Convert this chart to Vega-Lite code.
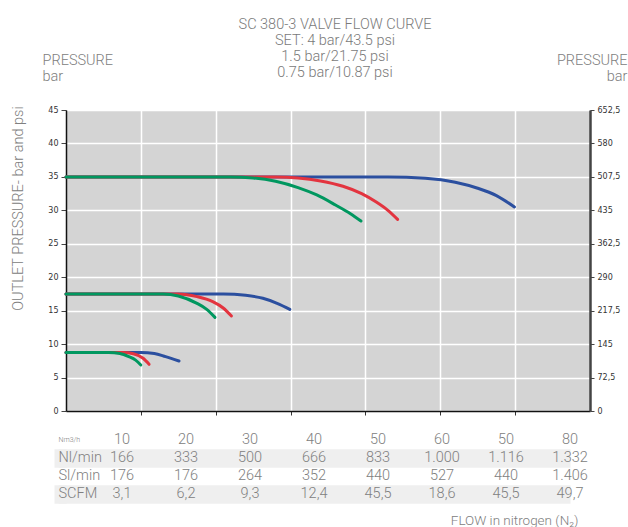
{
  "$schema": "https://vega.github.io/schema/vega-lite/v6.json",
  "width": 524,
  "height": 301,
  "autosize": "none",
  "padding": {"left": 66, "top": 110, "right": 38, "bottom": 116},
  "background": "white",
  "config": {
    "view": {"fill": "#d4d4d4", "stroke": "#9a9a9a", "strokeWidth": 1},
    "font": "Roboto",
    "axis": {
      "labelFont": "DejaVu Sans",
      "labelFontSize": 8,
      "labelColor": "#333333",
      "titleFont": "Roboto",
      "titleFontWeight": 300,
      "titleColor": "#808080",
      "titleFontSize": 14.5
    }
  },
  "title": {
    "text": ["SC 380-3 VALVE FLOW CURVE", "SET: 4 bar/43.5 psi", "1.5 bar/21.75 psi", "0.75 bar/10.87 psi"],
    "anchor": "middle",
    "frame": "group",
    "font": "Roboto",
    "fontWeight": 300,
    "fontSize": 14.5,
    "color": "#7a7a7a",
    "lineHeight": 16,
    "offset": -28,
    "dx": 7
  },
  "datasets": {
    "curves": [
      {"set": "35", "curve": "blue", "flow": 0, "pressure": 35},
      {"set": "35", "curve": "blue", "flow": 4.3, "pressure": 35},
      {"set": "35", "curve": "blue", "flow": 4.8, "pressure": 34.8},
      {"set": "35", "curve": "blue", "flow": 5.2, "pressure": 34.2},
      {"set": "35", "curve": "blue", "flow": 5.5, "pressure": 33.3},
      {"set": "35", "curve": "blue", "flow": 5.75, "pressure": 32.2},
      {"set": "35", "curve": "blue", "flow": 5.99, "pressure": 30.5},
      {"set": "17.5", "curve": "blue", "flow": 0, "pressure": 17.5},
      {"set": "17.5", "curve": "blue", "flow": 2.1, "pressure": 17.5},
      {"set": "17.5", "curve": "blue", "flow": 2.4, "pressure": 17.3},
      {"set": "17.5", "curve": "blue", "flow": 2.63, "pressure": 16.85},
      {"set": "17.5", "curve": "blue", "flow": 2.82, "pressure": 16.1},
      {"set": "17.5", "curve": "blue", "flow": 2.99, "pressure": 15.2},
      {"set": "8.75", "curve": "blue", "flow": 0, "pressure": 8.75},
      {"set": "8.75", "curve": "blue", "flow": 1.0, "pressure": 8.75},
      {"set": "8.75", "curve": "blue", "flow": 1.18, "pressure": 8.6},
      {"set": "8.75", "curve": "blue", "flow": 1.33, "pressure": 8.12},
      {"set": "8.75", "curve": "blue", "flow": 1.51, "pressure": 7.47},
      {"set": "35", "curve": "red", "flow": 0, "pressure": 35},
      {"set": "35", "curve": "red", "flow": 2.8, "pressure": 35},
      {"set": "35", "curve": "red", "flow": 3.1, "pressure": 34.85},
      {"set": "35", "curve": "red", "flow": 3.4, "pressure": 34.4},
      {"set": "35", "curve": "red", "flow": 3.7, "pressure": 33.6},
      {"set": "35", "curve": "red", "flow": 3.95, "pressure": 32.5},
      {"set": "35", "curve": "red", "flow": 4.15, "pressure": 31.2},
      {"set": "35", "curve": "red", "flow": 4.3, "pressure": 30.0},
      {"set": "35", "curve": "red", "flow": 4.43, "pressure": 28.65},
      {"set": "17.5", "curve": "red", "flow": 0, "pressure": 17.5},
      {"set": "17.5", "curve": "red", "flow": 1.5, "pressure": 17.5},
      {"set": "17.5", "curve": "red", "flow": 1.75, "pressure": 17.1},
      {"set": "17.5", "curve": "red", "flow": 1.96, "pressure": 16.35},
      {"set": "17.5", "curve": "red", "flow": 2.1, "pressure": 15.4},
      {"set": "17.5", "curve": "red", "flow": 2.21, "pressure": 14.2},
      {"set": "8.75", "curve": "red", "flow": 0, "pressure": 8.75},
      {"set": "8.75", "curve": "red", "flow": 0.76, "pressure": 8.75},
      {"set": "8.75", "curve": "red", "flow": 0.9, "pressure": 8.55},
      {"set": "8.75", "curve": "red", "flow": 1.03, "pressure": 7.88},
      {"set": "8.75", "curve": "red", "flow": 1.11, "pressure": 6.98},
      {"set": "35", "curve": "green", "flow": 0, "pressure": 35},
      {"set": "35", "curve": "green", "flow": 2.2, "pressure": 35},
      {"set": "35", "curve": "green", "flow": 2.5, "pressure": 34.85},
      {"set": "35", "curve": "green", "flow": 2.8, "pressure": 34.35},
      {"set": "35", "curve": "green", "flow": 3.1, "pressure": 33.4},
      {"set": "35", "curve": "green", "flow": 3.35, "pressure": 32.3},
      {"set": "35", "curve": "green", "flow": 3.6, "pressure": 30.8},
      {"set": "35", "curve": "green", "flow": 3.8, "pressure": 29.5},
      {"set": "35", "curve": "green", "flow": 3.94, "pressure": 28.4},
      {"set": "17.5", "curve": "green", "flow": 0, "pressure": 17.5},
      {"set": "17.5", "curve": "green", "flow": 1.3, "pressure": 17.5},
      {"set": "17.5", "curve": "green", "flow": 1.5, "pressure": 17.2},
      {"set": "17.5", "curve": "green", "flow": 1.75, "pressure": 16.1},
      {"set": "17.5", "curve": "green", "flow": 1.88, "pressure": 15.2},
      {"set": "17.5", "curve": "green", "flow": 1.99, "pressure": 14.0},
      {"set": "8.75", "curve": "green", "flow": 0, "pressure": 8.75},
      {"set": "8.75", "curve": "green", "flow": 0.57, "pressure": 8.75},
      {"set": "8.75", "curve": "green", "flow": 0.72, "pressure": 8.6},
      {"set": "8.75", "curve": "green", "flow": 0.84, "pressure": 8.12},
      {"set": "8.75", "curve": "green", "flow": 0.93, "pressure": 7.6},
      {"set": "8.75", "curve": "green", "flow": 1.0, "pressure": 6.88}
    ],
    "psi": [{"psi": 0}, {"psi": 652.5}],
    "table": [
      {"row": "Nm3/h", "col": 1, "value": "10"},
      {"row": "Nm3/h", "col": 2, "value": "20"},
      {"row": "Nm3/h", "col": 3, "value": "30"},
      {"row": "Nm3/h", "col": 4, "value": "40"},
      {"row": "Nm3/h", "col": 5, "value": "50"},
      {"row": "Nm3/h", "col": 6, "value": "60"},
      {"row": "Nm3/h", "col": 7, "value": "50"},
      {"row": "Nm3/h", "col": 8, "value": "80"},
      {"row": "Nl/min", "col": 1, "value": "166"},
      {"row": "Nl/min", "col": 2, "value": "333"},
      {"row": "Nl/min", "col": 3, "value": "500"},
      {"row": "Nl/min", "col": 4, "value": "666"},
      {"row": "Nl/min", "col": 5, "value": "833"},
      {"row": "Nl/min", "col": 6, "value": "1.000"},
      {"row": "Nl/min", "col": 7, "value": "1.116"},
      {"row": "Nl/min", "col": 8, "value": "1.332"},
      {"row": "Sl/min", "col": 1, "value": "176"},
      {"row": "Sl/min", "col": 2, "value": "176"},
      {"row": "Sl/min", "col": 3, "value": "264"},
      {"row": "Sl/min", "col": 4, "value": "352"},
      {"row": "Sl/min", "col": 5, "value": "440"},
      {"row": "Sl/min", "col": 6, "value": "527"},
      {"row": "Sl/min", "col": 7, "value": "440"},
      {"row": "Sl/min", "col": 8, "value": "1.406"},
      {"row": "SCFM", "col": 1, "value": "3,1"},
      {"row": "SCFM", "col": 2, "value": "6,2"},
      {"row": "SCFM", "col": 3, "value": "9,3"},
      {"row": "SCFM", "col": 4, "value": "12,4"},
      {"row": "SCFM", "col": 5, "value": "45,5"},
      {"row": "SCFM", "col": 6, "value": "18,6"},
      {"row": "SCFM", "col": 7, "value": "45,5"},
      {"row": "SCFM", "col": 8, "value": "49,7"}
    ]
  },
  "layer": [
    {
      "data": {"name": "curves"},
      "mark": {"type": "line", "interpolate": "monotone", "strokeWidth": 3, "strokeCap": "round"},
      "encoding": {
        "x": {
          "field": "flow",
          "type": "quantitative",
          "scale": {"domain": [0, 7], "nice": false},
          "axis": {
            "orient": "bottom",
            "values": [1, 2, 3, 4, 5, 6],
            "labels": false,
            "tickSize": 4,
            "tickColor": "#333333",
            "domainColor": "#111111",
            "domainWidth": 1.5,
            "grid": true,
            "gridColor": "white",
            "gridWidth": 1.5,
            "gridOpacity": 1,
            "title": "FLOW in nitrogen (N₂)",
            "titleFontSize": 13.5,
            "titleAlign": "right",
            "titleBaseline": "alphabetic",
            "titleX": 512,
            "titleY": 113
          }
        },
        "y": {
          "field": "pressure",
          "type": "quantitative",
          "scale": {"domain": [0, 45], "nice": false},
          "axis": {
            "orient": "left",
            "values": [0, 5, 10, 15, 20, 25, 30, 35, 40, 45],
            "tickSize": 5,
            "tickColor": "#444444",
            "labelPadding": 3,
            "domainColor": "#111111",
            "domainWidth": 1.5,
            "grid": true,
            "gridColor": "white",
            "gridWidth": 1.5,
            "gridOpacity": 1,
            "title": "OUTLET PRESSURE- bar and psi",
            "titleAngle": -90,
            "titleAlign": "center",
            "titleBaseline": "middle",
            "titleX": -48,
            "titleY": 98
          }
        },
        "color": {
          "field": "curve",
          "type": "nominal",
          "scale": {"domain": ["blue", "red", "green"], "range": ["#2b4f9f", "#e3343f", "#00975f"]},
          "legend": null
        },
        "detail": {"field": "set", "type": "nominal"}
      }
    },
    {
      "data": {"name": "psi"},
      "mark": {"type": "tick", "opacity": 0},
      "encoding": {
        "y": {
          "field": "psi",
          "type": "quantitative",
          "scale": {"domain": [0, 652.5], "nice": false},
          "axis": {
            "orient": "right",
            "values": [0, 72.5, 145, 217.5, 290, 362.5, 435, 507.5, 580, 652.5],
            "labelExpr": "replace(toString(datum.value), '.', ',')",
            "tickSize": 4,
            "tickColor": "#444444",
            "labelPadding": 3,
            "domainColor": "#444444",
            "domainWidth": 2.5,
            "grid": false,
            "title": ["PRESSURE", "bar"],
            "titleAngle": 0,
            "titleAlign": "right",
            "titleBaseline": "top",
            "titleLineHeight": 16,
            "titleX": 37,
            "titleY": -57
          }
        }
      }
    },
    {
      "data": {"name": "table"},
      "mark": {"type": "text", "align": "center", "baseline": "middle", "font": "Roboto", "fontWeight": 300, "color": "#808080", "fontSize": 14.5},
      "encoding": {
        "x": {
          "field": "col",
          "type": "ordinal",
          "scale": {"type": "point", "domain": [0, 1, 2, 3, 4, 5, 6, 7, 8], "range": [-8, 504], "padding": 0},
          "axis": null
        },
        "y": {
          "field": "row",
          "type": "nominal",
          "scale": {"type": "band", "domain": ["Nm3/h", "Nl/min", "Sl/min", "SCFM"], "range": [321, 393], "paddingInner": 0, "paddingOuter": 0},
          "axis": {
            "orient": "left",
            "bandPosition": 0.5,
            "labels": true,
            "labelFont": "Roboto",
            "labelFontWeight": 300,
            "labelColor": "#808080",
            "labelFontSize": {"condition": {"test": "datum.value === 'Nm3/h'", "value": 7}, "value": 14.5},
            "labelAlign": "left",
            "labelBaseline": "middle",
            "labelPadding": -4,
            "ticks": true,
            "tickSize": 12,
            "tickWidth": 18.5,
            "tickOpacity": 1,
            "tickColor": {"condition": {"test": "datum.value === 'Nl/min' || datum.value === 'SCFM'", "value": "#efefef"}, "value": "transparent"},
            "domain": false,
            "grid": true,
            "gridWidth": 18.5,
            "gridOpacity": 1,
            "gridColor": {"condition": {"test": "datum.value === 'Nl/min' || datum.value === 'SCFM'", "value": "#efefef"}, "value": "transparent"},
            "title": ["PRESSURE", "bar"],
            "titleAngle": 0,
            "titleAlign": "left",
            "titleBaseline": "top",
            "titleLineHeight": 16,
            "titleX": -24,
            "titleY": -57
          }
        },
        "text": {"field": "value"}
      }
    }
  ],
  "resolve": {"scale": {"x": "independent", "y": "independent"}}
}
